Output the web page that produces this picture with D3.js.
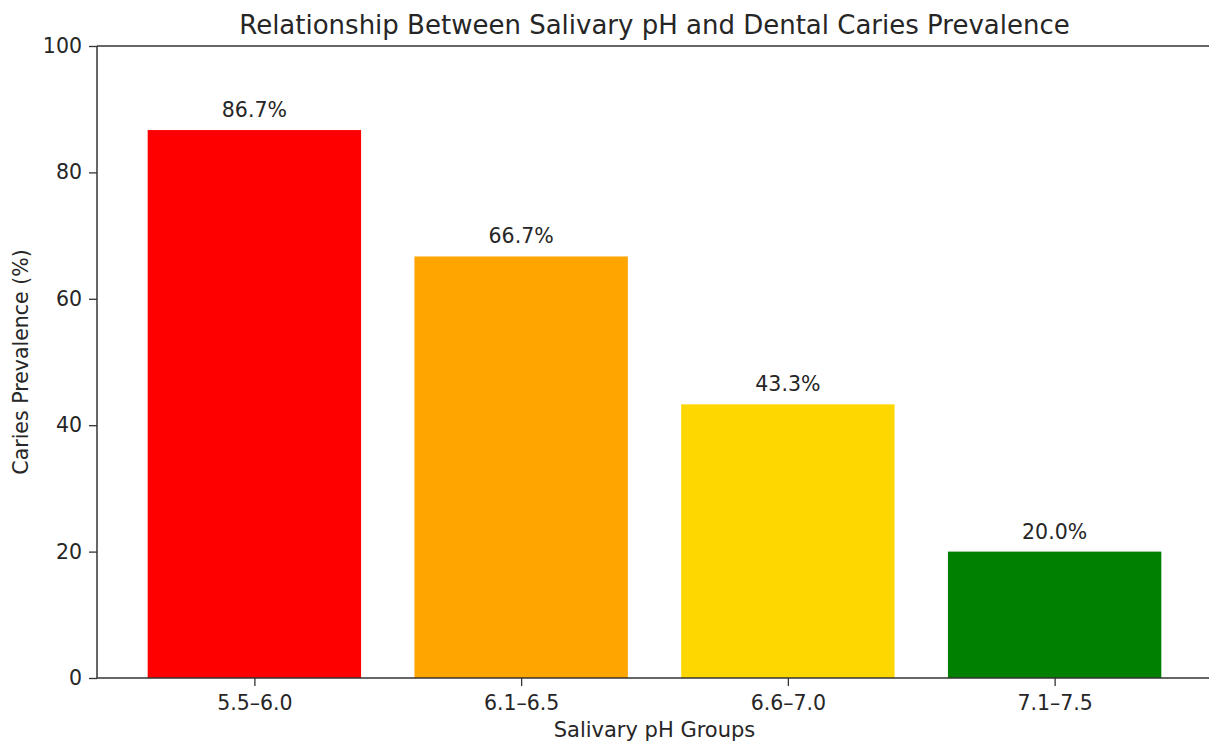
<!DOCTYPE html>
<html>
<head>
<meta charset="utf-8">
<script src="https://cdn.jsdelivr.net/npm/d3@7"></script>
<style>
  body { margin: 0; background: #fff; }
  text { font-family: "DejaVu Sans", sans-serif; fill: #262626; }
</style>
</head>
<body>
<div id="chart"></div>
<script>
// chart data
var groups = ["5.5–6.0", "6.1–6.5", "6.6–7.0", "7.1–7.5"];
var prevalence = [86.7, 66.7, 43.3, 20.0];
var barColors = ["#ff0000", "#ffa500", "#ffd700", "#008000"];
var yTicks = [0, 20, 40, 60, 80, 100];

function drawChart(){
    var width = 1209, height = 744;
    var left = 97, right = 1212, top = 46, bottom = 678;

    var svg = d3.select("#chart").append("svg")
        .attr("width", width)
        .attr("height", height);

    //x: category index mapped like matplotlib (bar width 0.8, 5% margins)
    var x = d3.scaleLinear().domain([-0.59, groups.length - 1 + 0.59]).range([left, right]);
    var y = d3.scaleLinear().domain([0, 100]).range([bottom, top]);
    var bw = x(0.8) - x(0);

    //bars
    svg.selectAll(".bar")
        .data(prevalence)
        .enter()
        .append("rect")
        .attr("class", "bar")
        .attr("x", function(d, i){ return x(i - 0.4); })
        .attr("y", function(d){ return y(d); })
        .attr("width", bw)
        .attr("height", function(d){ return y(0) - y(d); })
        .attr("fill", function(d, i){ return barColors[i]; });

    //value labels
    svg.selectAll(".val")
        .data(prevalence)
        .enter()
        .append("text")
        .attr("class", "val")
        .attr("x", function(d, i){ return x(i); })
        .attr("y", function(d){ return y(d) - 13; })
        .attr("text-anchor", "middle")
        .style("font-size", "20.5px")
        .text(function(d){ return d.toFixed(1) + "%"; });

    //axes
    var xAxis = d3.axisBottom(x)
        .tickValues(d3.range(groups.length))
        .tickFormat(function(i){ return groups[i]; })
        .tickSize(8).tickPadding(9);
    var yAxis = d3.axisLeft(y)
        .tickValues(yTicks)
        .tickSize(8).tickPadding(7);

    var gx = svg.append("g").attr("transform", "translate(0," + bottom + ")").call(xAxis);
    var gy = svg.append("g").attr("transform", "translate(" + left + ",0)").call(yAxis);
    [gx, gy].forEach(function(g){
        g.select(".domain").remove();
        g.selectAll("line").attr("stroke", "#333").attr("stroke-width", 1.3);
        g.selectAll("text").style("font-size", "20.5px").attr("fill", "#262626");
    });

    //spines (left, bottom, top)
    svg.append("line").attr("x1", left).attr("x2", left).attr("y1", top).attr("y2", bottom)
        .attr("stroke", "#333").attr("stroke-width", 1.5);
    svg.append("line").attr("x1", left).attr("x2", right).attr("y1", bottom).attr("y2", bottom)
        .attr("stroke", "#333").attr("stroke-width", 1.5);
    svg.append("line").attr("x1", left).attr("x2", right).attr("y1", top).attr("y2", top)
        .attr("stroke", "#333").attr("stroke-width", 1.5);

    //title and axis labels
    var cx = (left + right) / 2;
    svg.append("text")
        .attr("x", cx).attr("y", 34)
        .attr("text-anchor", "middle")
        .style("font-size", "26px")
        .text("Relationship Between Salivary pH and Dental Caries Prevalence");
    svg.append("text")
        .attr("x", cx).attr("y", 737)
        .attr("text-anchor", "middle")
        .style("font-size", "21px")
        .text("Salivary pH Groups");
    svg.append("text")
        .attr("transform", "translate(28," + ((top + bottom) / 2) + ") rotate(-90)")
        .attr("text-anchor", "middle")
        .style("font-size", "20.5px")
        .text("Caries Prevalence (%)");
}

window.onload = drawChart();
</script>
</body>
</html>
